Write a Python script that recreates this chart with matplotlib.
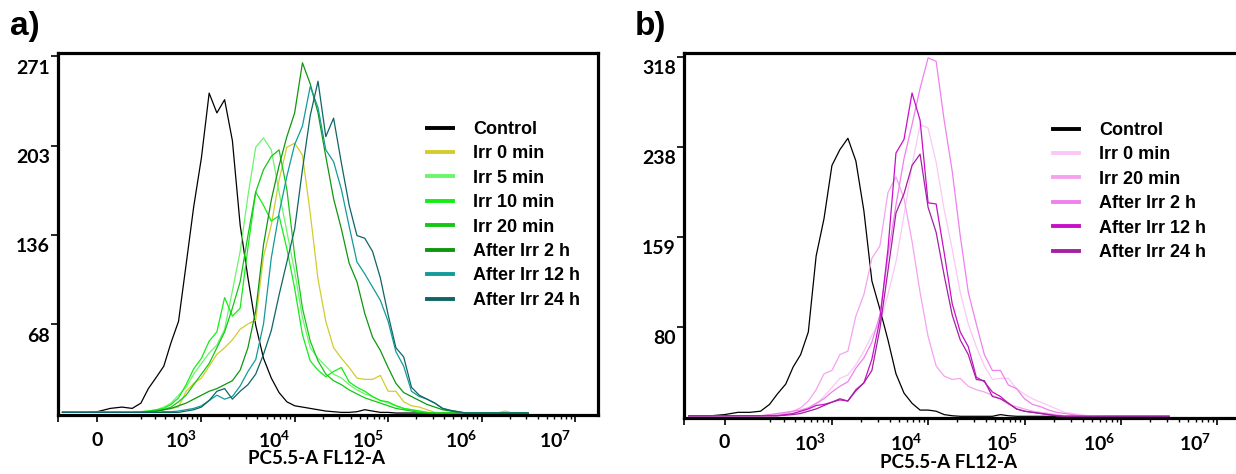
import numpy as np
import matplotlib
matplotlib.use('Agg')
import matplotlib.pyplot as plt

plt.rcParams['font.family'] = ['Lato', 'DejaVu Sans']
plt.rcParams['mathtext.fontset'] = 'custom'
plt.rcParams['mathtext.rm'] = 'Lato'
plt.rcParams['mathtext.bf'] = 'Lato:bold'
plt.rcParams['mathtext.it'] = 'Lato:italic'

# ---------------- data ----------------
bins = [-150, -100, -50, 0, 50, 100, 150, 200, 250,
        316, 383, 464, 562, 681, 825, 1000, 1212, 1468, 1778,
        2154, 2610, 3162, 3831, 4642, 5623, 6813, 8254, 10000, 12115,
        14678, 17783, 21544, 26102, 31623, 38312, 46416, 56234, 68129, 82540,
        100000, 121150, 146780, 177830, 215440, 261020, 316230, 383120, 464160, 562340,
        681290, 825400, 1000000, 1211500, 1467800, 1778300, 2154400, 2610200, 3162300]

TAIL = [0.5] * 9   # bins 49..57

labels_a = ["Control", "Irr 0 min", "Irr 5 min", "Irr 10 min", "Irr 20 min",
            "After Irr 2 h", "After Irr 12 h", "After Irr 24 h"]
control_a = ([1, 1, 1, 1.5, 4, 5, 4, 8, 19]
             + [28, 36, 54, 70, 113, 157, 194, 243, 228, 238]
             + [207, 143, 103, 67, 42, 27, 16, 9, 6, 5]
             + [4, 3, 2, 1.5, 1, 1, 1.5, 3, 2, 1]
             + [1, 0.5, 0.5, 0.5, 0.5, 0.5, 0.5, 0.5, 0.5, 0.5] + TAIL)
irr0_a = ([1, 1, 1, 1, 1, 1, 1, 1, 1]
          + [2, 3, 4, 5, 17, 23, 27, 36, 45, 50]
          + [56, 64, 68, 71, 119, 143, 177, 202, 205, 196]
          + [152, 102, 70, 50, 42, 35, 27, 26, 26, 29]
          + [17, 17, 9, 6, 5, 3, 1, 0.5, 0.5, 0.5]
          + [0.5, 0.5, 0.5, 0.5, 0.5, 2, 0.5, 0.5, 0.5])
irr5_a = ([1, 1, 1, 1, 1, 1, 1, 1.5, 2]
          + [3, 5, 8, 14, 20, 30, 38, 46, 52, 64]
          + [93, 123, 165, 202, 209, 200, 168, 138, 108, 73]
          + [50, 42, 36, 30, 27, 22, 18, 15, 13, 10]
          + [8, 6, 4, 3, 2, 1, 0.5, 0.5, 0.5, 0.5] + TAIL)
irr10_a = ([1, 1, 1, 1, 1, 1, 1, 1.5, 2]
           + [3, 4, 7, 12, 22, 34, 42, 55, 62, 88]
           + [74, 80, 126, 168, 158, 146, 150, 125, 95, 60]
           + [40, 33, 28, 32, 35, 24, 20, 17, 13, 10]
           + [9, 6, 4, 3, 2, 1, 0.5, 0.5, 0.5, 0.5] + TAIL)
irr20_a = ([1, 1, 1, 1, 1, 1, 1, 1, 1.5]
           + [2, 3, 5, 9, 14, 22, 30, 38, 50, 62]
           + [80, 100, 135, 168, 185, 195, 200, 170, 120, 80]
           + [55, 40, 30, 25, 22, 18, 15, 12, 10, 8]
           + [6, 4, 3, 2, 1, 0.5, 0.5, 0.5, 0.5, 0.5] + TAIL)
after2_a = ([1, 1, 1, 1, 1, 1, 1, 1, 1.5]
            + [2, 3, 4, 6, 8, 11, 14, 17, 19, 22]
            + [25, 33, 50, 78, 128, 162, 188, 210, 228, 266]
            + [250, 228, 195, 163, 140, 114, 100, 76, 58, 48]
            + [35, 23, 16, 13, 10, 7, 5, 3, 2, 1] + TAIL)
after12_a = ([1, 1, 1, 1, 1, 1, 1, 1, 1]
             + [1, 1.5, 1.5, 2, 3, 4, 6, 10, 14, 11]
             + [13, 21, 32, 41, 68, 118, 152, 180, 204, 218]
             + [248, 232, 200, 191, 170, 142, 115, 106, 96, 86]
             + [70, 47, 36, 17, 13, 11, 8, 4, 2.5, 1.5] + TAIL)
after24_a = ([1, 1, 1, 1, 1, 1, 1, 1, 1]
             + [1, 1, 1, 1, 2, 3, 5, 10, 17, 19]
             + [11, 17, 22, 30, 45, 63, 90, 115, 140, 185]
             + [226, 252, 210, 224, 190, 158, 135, 133, 123, 103]
             + [75, 50, 43, 20, 14, 11, 8, 4, 2.5, 1.5] + TAIL)
series_a = [control_a, irr0_a, irr5_a, irr10_a, irr20_a, after2_a, after12_a, after24_a]
colors_a = ["#000000", "#d2cc2e", "#6af56a", "#14ee14", "#16c616",
            "#0f960f", "#139a9a", "#0f6565"]

labels_b = ["Control", "Irr 0 min", "Irr 20 min", "After Irr 2 h",
            "After Irr 12 h", "After Irr 24 h"]
control_b = ([1, 1, 1, 2, 4, 4, 5, 11, 20]
             + [29, 44, 55, 75, 142, 175, 222, 236, 246, 226]
             + [182, 120, 95, 68, 38, 21, 12, 6, 6, 5]
             + [2, 1, 0.5, 0.5, 0.5, 0.5, 0.5, 2, 1, 0.5]
             + [0.5] * 10 + TAIL)
irr0_b = ([1, 1, 1, 1, 1, 1, 1, 1, 1.5]
          + [2, 3, 4, 7, 11, 18, 26, 34, 37, 46]
          + [58, 72, 83, 108, 137, 178, 222, 258, 255, 225]
          + [183, 148, 110, 82, 62, 45, 33, 34, 34, 25]
          + [20, 16, 13, 10, 7, 4, 3, 2, 1, 1] + TAIL)
irr20_b = ([1, 1, 1, 1, 1, 1, 1, 1.5, 2]
           + [3, 5, 8, 14, 24, 38, 41, 55, 58, 89]
           + [108, 140, 151, 198, 212, 193, 155, 110, 71, 45]
           + [36, 33, 34, 27, 24, 22, 19, 16, 11, 9]
           + [7, 5, 4, 3, 2, 1, 0.5, 0.5, 0.5, 0.5] + TAIL)
after2_b = ([1, 1, 1, 1, 1, 1, 1, 2, 3]
            + [4, 5, 6, 8, 12, 16, 22, 27, 31, 43]
            + [52, 66, 90, 142, 187, 228, 258, 290, 317, 314]
            + [262, 217, 160, 110, 82, 55, 41, 41, 28, 25]
            + [16, 11, 9, 6, 4, 3, 2, 1, 0.5, 0.5] + TAIL)
after12_b = ([1, 1, 1, 1, 1, 1, 1, 1, 1]
             + [2, 3, 5, 7, 10, 11, 13, 15, 14, 24]
             + [30, 51, 86, 148, 233, 245, 286, 262, 189, 188]
             + [145, 100, 75, 62, 35, 31, 22, 18, 12, 7]
             + [5, 4, 3, 2, 1, 0.5, 0.5, 0.5, 0.5, 0.5] + TAIL)
after24_b = ([1, 1, 1, 1, 1, 1, 1, 1, 1]
             + [1.5, 2, 3, 5, 7, 10, 13, 16, 14, 23]
             + [30, 41, 78, 129, 180, 197, 222, 232, 185, 163]
             + [125, 90, 68, 55, 33, 32, 18, 16, 12, 7]
             + [5, 4, 3, 2, 1, 0.5, 0.5, 0.5, 0.5, 0.5] + TAIL)
series_b = [control_b, irr0_b, irr20_b, after2_b, after12_b, after24_b]
colors_b = ["#000000", "#fac8f4", "#f5a2f0", "#f080ee", "#c80fc8", "#a321a3"]

x_major = [0, 1e3, 1e4, 1e5, 1e6, 1e7]
x_major_labels = ["0", r"$\mathbf{10^{3}}$", r"$\mathbf{10^{4}}$", r"$\mathbf{10^{5}}$",
                  r"$\mathbf{10^{6}}$", r"$\mathbf{10^{7}}$"]
yticks_a = [67.75, 135.5, 203.25, 271]
ylabels_a = ["68", "136", "203", "271"]
yticks_b = [79.5, 159, 238.5, 318]
ylabels_b = ["80", "159", "238", "318"]
xlabel_text = "PC5.5-A FL12-A"

for s in series_a + series_b:
    assert len(s) == len(bins), len(s)

# ---------------- figure ----------------
W, H = 1236, 474
fig = plt.figure(figsize=(W / 100, H / 100), dpi=100)

C = 155.0
def fwd(x):
    return np.arcsinh(np.asarray(x, dtype=float) / C)
def inv(y):
    return C * np.sinh(np.asarray(y, dtype=float))

x_minor = [k * 10 ** n for n in range(2, 7) for k in range(2, 10)]


def make_panel(rect, series, colors, labels, yticks, ylabels, ylim,
               xlab_dx, leg_xy, xlabel_xy, letter, letter_xy):
    ax = fig.add_axes(rect)
    ax.set_xscale('function', functions=(fwd, inv))
    for s, c, l in zip(series, colors, labels):
        ax.plot(bins, s, color=c, lw=0.9, label=l)
    ax.set_xlim(-175, 1.76e7)
    ax.set_ylim(*ylim)
    ax.set_xticks([-175] + x_major)
    ax.set_xticks(x_minor, minor=True)
    ax.set_yticks(yticks)
    ax.tick_params(axis='both', which='major', direction='out', length=5,
                   width=1.2, labelbottom=False, labelleft=False)
    ax.tick_params(axis='x', which='minor', direction='out', length=3, width=1.0)
    for sp in ax.spines.values():
        sp.set_linewidth(2.3)
    # tick labels
    for v, lab in zip(x_major, x_major_labels):
        dx = 0 if v == 0 else xlab_dx
        ax.annotate(lab, xy=(v, 0), xycoords=('data', 'axes fraction'),
                    xytext=(dx, -25), textcoords='offset pixels',
                    ha='center', va='center', fontsize=14, fontweight='bold')
    for v, lab in zip(yticks, ylabels):
        ax.annotate(lab, xy=(0, v), xycoords=('axes fraction', 'data'),
                    xytext=(-8, -12), textcoords='offset pixels',
                    ha='right', va='center', fontsize=14, fontweight='bold')
    ax.set_xlabel(xlabel_text, fontsize=13.5, fontweight='bold')
    ax.xaxis.set_label_coords(*xlabel_xy)
    ax.xaxis.label.set_va('center')
    leg = ax.legend(loc='upper left', bbox_to_anchor=(leg_xy[0] / W, 1 - leg_xy[1] / H),
                    bbox_transform=fig.transFigure, frameon=False, borderpad=0,
                    borderaxespad=0, handlelength=1.45, handletextpad=1.1,
                    labelspacing=0.41,
                    prop={'family': 'Liberation Sans', 'weight': 'bold', 'size': 13})
    for ln in leg.get_lines():
        ln.set_linewidth(2.8)
    fig.text(letter_xy[0] / W, 1 - letter_xy[1] / H, letter, fontsize=24,
             fontweight='bold', family='Liberation Sans', va='baseline')
    return ax


make_panel([58 / W, (H - 415) / H, 540 / W, 362 / H], series_a, colors_a, labels_a,
           yticks_a, ylabels_a, (-1, 273.4), -20, (427, 121),
           ((316 - 58) / 540, (415 - 458) / 362), "a)", (10, 35))
make_panel([684 / W, (H - 418) / H, 557 / W, 365 / H], series_b, colors_b, labels_b,
           yticks_b, ylabels_b, (-1, 321.3), -22, (1053, 122),
           ((949 - 684) / 557, (418 - 462) / 365), "b)", (635, 35))

fig.savefig("out.png", dpi=100)
